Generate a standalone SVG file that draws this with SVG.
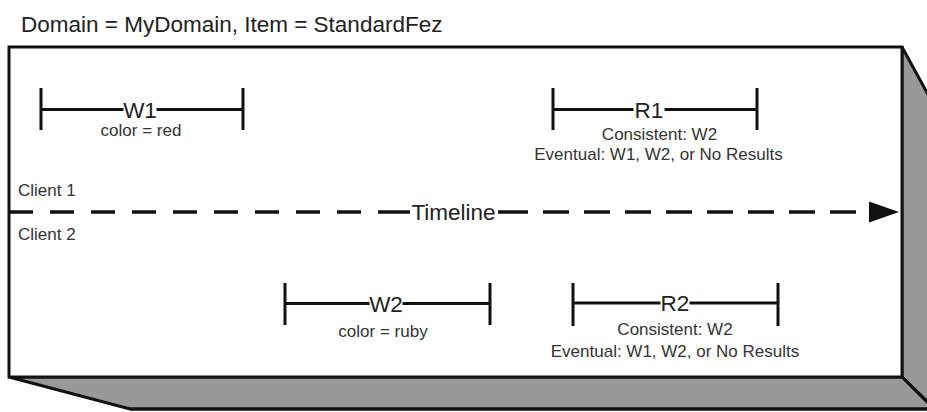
<svg xmlns="http://www.w3.org/2000/svg" width="927" height="412" viewBox="0 0 927 412">
<style>
.big{font-family:"Liberation Sans",Arial,sans-serif;font-size:22.5px;fill:#222}
.small{font-family:"Liberation Sans",Arial,sans-serif;font-size:17px;fill:#333}
.mid{text-anchor:middle}
.edge{stroke:#111;stroke-width:3;stroke-linejoin:miter}
.bar{stroke:#111;stroke-width:3;fill:none}
.dash{stroke:#111;stroke-width:3.5;fill:none}
</style>
<defs>
<marker id="arrow" markerUnits="userSpaceOnUse" viewBox="0 0 30 21" refX="0" refY="10.5" markerWidth="30" markerHeight="21" orient="auto">
<path d="M0,0 L30,10.5 L0,21 z" fill="#111"/>
</marker>
</defs>
<rect width="927" height="412" fill="#fff"/>
<g id="title"><text class="big" x="21" y="31.5">Domain = MyDomain, Item = StandardFez</text></g>
<g id="box">
<polygon class="edge" points="902,47 930,98 930,404 902,377" fill="#999"/>
<polygon class="edge" points="9,377 902,377 934,409 130,409" fill="#999"/>
<line class="edge" x1="130" y1="409" x2="930" y2="409"/>
<rect class="edge" x="9" y="47" width="893" height="330" fill="#fff"/>
</g>
<g id="connectors">
<path class="dash" d="M9,212 H378" stroke-dasharray="24 17"/>
<path class="dash" d="M378,212 H410"/>
<path class="dash" d="M498,212 H528"/>
<path class="dash" d="M543,212 H869" stroke-dasharray="26 15" marker-end="url(#arrow)"/>
</g>
<g id="timeline"><text class="big mid" x="453.5" y="219.5">Timeline</text></g>
<g id="client1"><text class="small" x="18" y="196">Client 1</text></g>
<g id="client2"><text class="small" x="18" y="240">Client 2</text></g>
<g id="w1">
<path class="bar" d="M41,88 V130 M243,88 V130 M41,109.5 H123.5 M156.5,109.5 H243"/>
<text class="big mid" x="140" y="117.5">W1</text>
<text class="small mid" x="141" y="136">color = red</text>
</g>
<g id="r1">
<path class="bar" d="M553,88 V130 M757,88 V130 M553,109.5 H633.5 M664.5,109.5 H757"/>
<text class="big mid" x="649" y="117.5">R1</text>
<text class="small mid" x="659.5" y="139.5">Consistent: W2</text>
<text class="small mid" x="658.5" y="160">Eventual: W1, W2, or No Results</text>
</g>
<g id="w2">
<path class="bar" d="M285,283 V325 M490,283 V325 M285,303.5 H369.5 M402.5,303.5 H490"/>
<text class="big mid" x="386" y="311.5">W2</text>
<text class="small mid" x="383" y="336.5">color = ruby</text>
</g>
<g id="r2">
<path class="bar" d="M573,283 V326 M778,283 V326 M573,303 H660.5 M689.5,303 H778"/>
<text class="big mid" x="675" y="311">R2</text>
<text class="small mid" x="675" y="335">Consistent: W2</text>
<text class="small mid" x="675" y="356.5">Eventual: W1, W2, or No Results</text>
</g>
</svg>
